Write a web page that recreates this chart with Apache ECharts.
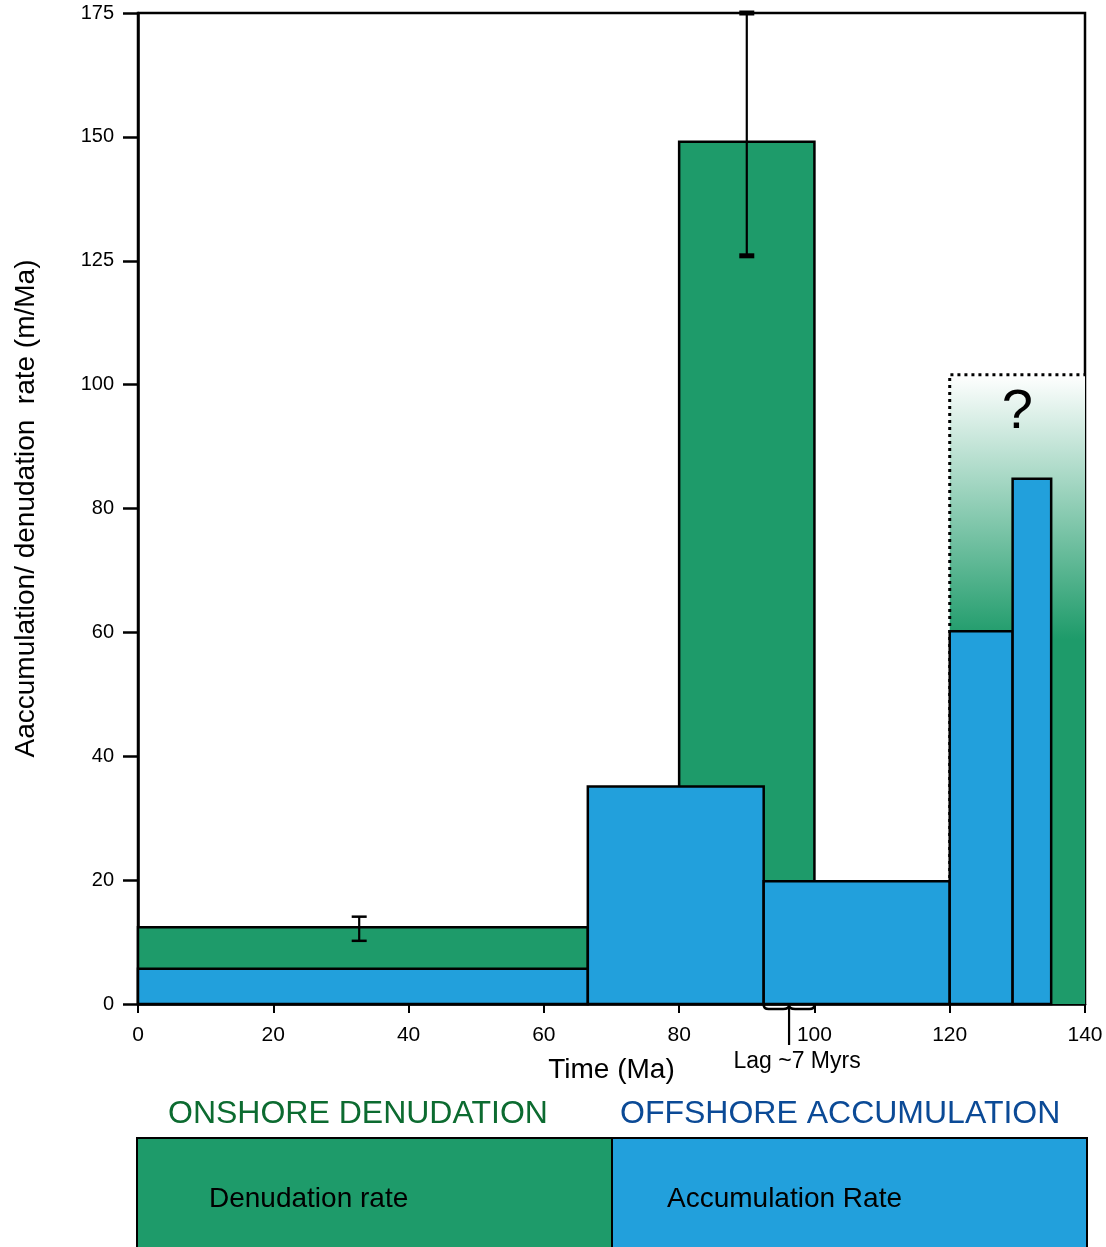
<!DOCTYPE html>
<html>
<head>
<meta charset="utf-8">
<title>Onshore denudation vs offshore accumulation</title>
<script src="https://cdn.jsdelivr.net/npm/echarts@6/dist/echarts.min.js"></script>
<style>
  html, body { margin: 0; padding: 0; background: #fff; }
  #chart { width: 1106px; height: 1247px; }
</style>
</head>
<body>
<div id="chart"></div>
<script>
// Rate axis: tick labels are evenly spaced although the step changes above 100
const RATE_TICKS = [0, 20, 40, 60, 80, 100, 125, 150, 175];

// Onshore denudation rate (m/Ma) per time interval (Ma)
const DENUDATION_START = [0, 80];
const DENUDATION_END = [66.5, 100];
const DENUDATION_RATE = [12.4, 149];

// Error bars on the denudation estimates
const DENUDATION_ERR_TIME = [32.7, 90];
const DENUDATION_ERR_LOW = [10.2, 126];
const DENUDATION_ERR_HIGH = [14.1, 175];

// Poorly constrained denudation for the oldest interval
const UNCERTAIN_START = [120];
const UNCERTAIN_END = [140];
const UNCERTAIN_MAX = [102];

// Offshore accumulation rate (m/Ma)
const ACCUM_START = [0, 66.5, 92.5, 120, 129.3];
const ACCUM_END = [66.5, 92.5, 120, 129.3, 135];
const ACCUM_RATE = [5.7, 35.1, 19.8, 60.2, 84.8];

// Lag between accumulation and denudation peaks
const LAG_START = [92.5];
const LAG_END = [100];
const LAG_LABEL = 'Lag ~7 Myrs';

const GREEN = '#1e9b6a';
const BLUE = '#22a0dc';
const FONT = '"Liberation Sans", Arial, Helvetica, sans-serif';

// Map a rate onto the piecewise axis (one unit per tick interval)
function toAxis(v) {
  for (let i = 0; i < RATE_TICKS.length - 1; i++) {
    const a = RATE_TICKS[i], b = RATE_TICKS[i + 1];
    if (v <= b || i === RATE_TICKS.length - 2) {
      return i + (v - a) / (b - a);
    }
  }
  return 0;
}

const denudationData = DENUDATION_RATE.map((v, i) => [DENUDATION_START[i], DENUDATION_END[i], toAxis(v)]);
const accumData = ACCUM_RATE.map((v, i) => [ACCUM_START[i], ACCUM_END[i], toAxis(v)]);
const uncertainData = UNCERTAIN_MAX.map((v, i) => [UNCERTAIN_START[i], UNCERTAIN_END[i], toAxis(v)]);
const errData = DENUDATION_ERR_TIME.map((t, i) => [t, toAxis(DENUDATION_ERR_LOW[i]), toAxis(DENUDATION_ERR_HIGH[i])]);
const lagData = LAG_START.map((s, i) => [s, LAG_END[i]]);

function barRenderer(fill) {
  return function (params, api) {
    const top = api.coord([api.value(0), api.value(2)]);
    const base = api.coord([api.value(1), 0]);
    return {
      type: 'rect',
      shape: { x: top[0], y: top[1], width: base[0] - top[0], height: base[1] - top[1] },
      style: { fill: fill, stroke: '#000', lineWidth: 2.5 }
    };
  };
}

function uncertainRenderer(params, api) {
  const top = api.coord([api.value(0), api.value(2)]);
  const base = api.coord([api.value(1), 0]);
  const w = base[0] - top[0], h = base[1] - top[1];
  return {
    type: 'group',
    children: [
      {
        type: 'rect',
        shape: { x: top[0], y: top[1], width: w, height: h },
        style: {
          fill: new echarts.graphic.LinearGradient(0, 0, 0, 1, [
            { offset: 0, color: '#ffffff' },
            { offset: 0.42, color: GREEN },
            { offset: 1, color: GREEN }
          ])
        }
      },
      {
        type: 'polyline',
        shape: { points: [[top[0], base[1]], [top[0], top[1]], [base[0], top[1]]] },
        style: { stroke: '#000', lineWidth: 3, lineDash: [3, 4], fill: null }
      },
      {
        type: 'text',
        style: {
          text: '?', x: top[0] + w / 2, y: top[1] + 38,
          align: 'center', verticalAlign: 'middle',
          font: '56px ' + FONT, fill: '#000'
        }
      }
    ]
  };
}

function errRenderer(params, api) {
  const lo = api.coord([api.value(0), api.value(1)]);
  const hi = api.coord([api.value(0), api.value(2)]);
  const big = params.dataIndex === 1;
  const capW = 15, capT = big ? 5 : 2.5;
  return {
    type: 'group',
    children: [
      { type: 'line', shape: { x1: lo[0], y1: lo[1], x2: hi[0], y2: hi[1] }, style: { stroke: '#000', lineWidth: 2.2 } },
      { type: 'line', shape: { x1: lo[0] - capW / 2, y1: lo[1], x2: lo[0] + capW / 2, y2: lo[1] }, style: { stroke: '#000', lineWidth: capT } },
      { type: 'line', shape: { x1: hi[0] - capW / 2, y1: hi[1], x2: hi[0] + capW / 2, y2: hi[1] }, style: { stroke: '#000', lineWidth: capT } }
    ]
  };
}

function lagRenderer(params, api) {
  const a = api.coord([api.value(0), 0]);
  const b = api.coord([api.value(1), 0]);
  const y = a[1] + 5, xc = (a[0] + b[0]) / 2;
  return {
    type: 'group',
    children: [
      {
        type: 'path',
        shape: {
          pathData: 'M' + a[0] + ' ' + (y - 4) + ' Q' + a[0] + ' ' + y + ' ' + (a[0] + 5) + ' ' + y +
            ' L' + (xc - 6) + ' ' + y + ' Q' + xc + ' ' + y + ' ' + xc + ' ' + (y - 4) +
            ' Q' + xc + ' ' + y + ' ' + (xc + 6) + ' ' + y +
            ' L' + (b[0] - 5) + ' ' + y + ' Q' + b[0] + ' ' + y + ' ' + b[0] + ' ' + (y - 4)
        },
        style: { stroke: '#000', lineWidth: 2.5, fill: null }
      },
      { type: 'line', shape: { x1: xc, y1: y, x2: xc, y2: y + 36 }, style: { stroke: '#000', lineWidth: 2.2 } },
      {
        type: 'text',
        style: {
          text: LAG_LABEL, x: xc + 8, y: a[1] + 58,
          align: 'center', verticalAlign: 'middle',
          font: '23px ' + FONT, fill: '#000'
        }
      }
    ]
  };
}

const chart = echarts.init(document.getElementById('chart'), null, { renderer: 'canvas' });

chart.setOption({
  backgroundColor: '#fff',
  animation: false,
  grid: {
    left: 138, right: 21, top: 13, bottom: 243,
    show: true, borderColor: '#000', borderWidth: 2.5, backgroundColor: 'transparent'
  },
  xAxis: {
    type: 'value', min: 0, max: 140, interval: 20,
    name: 'Time (Ma)', nameLocation: 'middle', nameGap: 52,
    nameTextStyle: { fontFamily: FONT, fontSize: 28, color: '#000' },
    axisLine: { show: true, lineStyle: { color: '#000', width: 2.5 } },
    axisTick: { show: true, inside: false, length: 9, lineStyle: { color: '#000', width: 2 } },
    axisLabel: { fontFamily: FONT, fontSize: 21, color: '#000', margin: 21 },
    splitLine: { show: false }
  },
  yAxis: {
    type: 'value', min: 0, max: RATE_TICKS.length - 1, interval: 1,
    name: 'Aaccumulation/ denudation  rate (m/Ma)', nameLocation: 'middle', nameGap: 98,
    nameTextStyle: { fontFamily: FONT, fontSize: 28, color: '#000' },
    axisLine: { show: true, lineStyle: { color: '#000', width: 2.5 } },
    axisTick: { show: true, inside: false, length: 15, lineStyle: { color: '#000', width: 2.5 } },
    axisLabel: {
      fontFamily: FONT, fontSize: 20, color: '#000', margin: 24,
      formatter: v => String(RATE_TICKS[Math.round(v)])
    },
    splitLine: { show: false }
  },
  graphic: [
    {
      type: 'text', left: 168, top: 1098,
      style: { text: 'ONSHORE DENUDATION', font: '32px ' + FONT, fill: '#0c6b30' }
    },
    {
      type: 'text', left: 620, top: 1098,
      style: { text: 'OFFSHORE ACCUMULATION', font: '32px ' + FONT, fill: '#0b4a96' }
    },
    {
      type: 'rect', shape: { x: 137, y: 1138, width: 475, height: 130 },
      style: { fill: GREEN, stroke: '#000', lineWidth: 2 }
    },
    {
      type: 'rect', shape: { x: 612, y: 1138, width: 475, height: 130 },
      style: { fill: BLUE, stroke: '#000', lineWidth: 2 }
    },
    {
      type: 'text', left: 209, top: 1185,
      style: { text: 'Denudation rate', font: '28px ' + FONT, fill: '#000' }
    },
    {
      type: 'text', left: 667, top: 1185,
      style: { text: 'Accumulation Rate', font: '28px ' + FONT, fill: '#000' }
    }
  ],
  series: [
    {
      name: 'Denudation rate', type: 'custom', z: 2,
      renderItem: barRenderer(GREEN), encode: { x: [0, 1], y: 2 },
      data: denudationData
    },
    {
      name: 'Denudation rate (uncertain)', type: 'custom', z: 2,
      renderItem: uncertainRenderer, encode: { x: [0, 1], y: 2 },
      data: uncertainData
    },
    {
      name: 'Accumulation Rate', type: 'custom', z: 3,
      renderItem: barRenderer(BLUE), encode: { x: [0, 1], y: 2 },
      data: accumData
    },
    {
      name: 'Denudation error', type: 'custom', z: 4, clip: false,
      renderItem: errRenderer, encode: { x: 0, y: [1, 2] },
      data: errData
    },
    {
      name: 'Lag', type: 'custom', z: 5, clip: false,
      renderItem: lagRenderer, encode: { x: [0, 1] },
      data: lagData
    }
  ]
});
</script>
</body>
</html>
